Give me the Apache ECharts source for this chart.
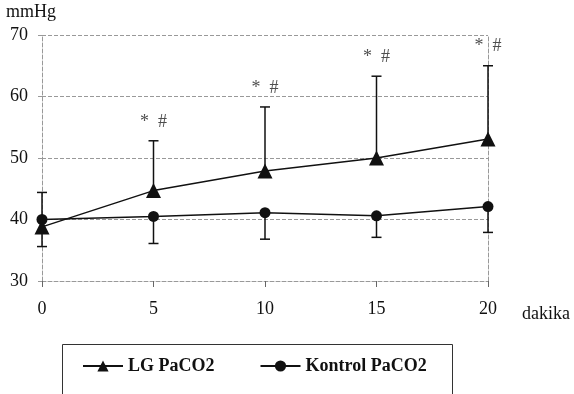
<!DOCTYPE html>
<html>
<head>
<meta charset="utf-8">
<script src="https://cdn.jsdelivr.net/npm/echarts@6/dist/echarts.min.js"></script>
<style>html,body{margin:0;padding:0;background:#fff;}#c{width:574px;height:394px;}</style>
</head>
<body>
<div id="c"></div>
<script>
const minutes = [0, 5, 10, 15, 20];
const lgMean = [38.8, 44.7, 47.9, 50.0, 53.1];
const lgUpper = [44.4, 52.8, 58.3, 63.3, 65.0];
const kontrolMean = [40.0, 40.5, 41.1, 40.6, 42.1];
const kontrolLower = [35.6, 36.1, 36.8, 37.1, 37.9];
const yTicks = [30, 40, 50, 60, 70];
const signif = ['', '*  #', '*  #', '*  #', '*  #'];

const FONT = 'Liberation Serif';
const chart = echarts.init(document.getElementById('c'));

function errRender(params, api) {
  const x = api.value(0);
  const p1 = api.coord([x, api.value(1)]);
  const p2 = api.coord([x, api.value(2)]);
  const capPt = api.value(3) === 1 ? p2 : p1;
  const hw = 5;
  return {
    type: 'group',
    children: [
      { type: 'line', shape: { x1: p1[0], y1: p1[1], x2: p2[0], y2: p2[1] }, style: { stroke: '#111', lineWidth: 1.5 } },
      { type: 'line', shape: { x1: capPt[0] - hw, y1: capPt[1], x2: capPt[0] + hw, y2: capPt[1] }, style: { stroke: '#111', lineWidth: 1.5 } }
    ]
  };
}

const lgErr = minutes.map((m, i) => [m, lgMean[i], lgUpper[i], 1]);
const kErr = minutes.map((m, i) => [m, kontrolLower[i], kontrolMean[i], 0]);

chart.setOption({
  animation: false,
  backgroundColor: '#fff',
  textStyle: { fontFamily: FONT },
  grid: { left: 42, right: 86, top: 35, bottom: 113 },
  xAxis: {
    type: 'value', min: 0, max: 20, interval: 5,
    axisLine: { show: true, lineStyle: { color: '#999', type: 'dashed', width: 1 } },
    axisTick: { show: true, length: 6, lineStyle: { color: '#666', width: 1 } },
    axisLabel: { color: '#111', fontSize: 18, fontFamily: FONT, margin: 19 },
    splitLine: { show: false }
  },
  yAxis: [{
    type: 'value', min: 30, max: 70, interval: 10,
    axisLine: { show: true, lineStyle: { color: '#999', type: 'dashed', width: 1 } },
    axisTick: { show: true, length: 5, lineStyle: { color: '#999', type: 'dashed' } },
    axisLabel: { color: '#111', fontSize: 18, fontFamily: FONT, margin: 14,
      formatter: v => yTicks.includes(v) ? String(v) : '' },
    splitLine: { show: true, lineStyle: { color: '#999', type: 'dashed', width: 1 } }
  }, {
    type: 'value', min: 30, max: 70, interval: 10, position: 'right',
    axisLine: { show: true, lineStyle: { color: '#999', type: 'dashed', width: 1 } },
    axisTick: { show: false }, axisLabel: { show: false }, splitLine: { show: false }
  }],
  legend: {
    left: 77, top: 352,
    itemWidth: 40, itemHeight: 14, itemGap: 45,
    textStyle: { fontFamily: FONT, fontWeight: 'bold', fontSize: 18, color: '#111' },
    data: ['LG PaCO2', 'Kontrol PaCO2']
  },
  graphic: [
    { type: 'text', left: 6, top: 3, style: { text: 'mmHg', font: '18px "Liberation Serif"', fill: '#111' } },
    { type: 'text', left: 522, top: 305, style: { text: 'dakika', font: '18px "Liberation Serif"', fill: '#111' } },
    { type: 'rect', shape: { x: 62.5, y: 344.5, width: 390, height: 80 }, style: { fill: 'none', stroke: '#333', lineWidth: 1 } }
  ],
  series: [
    { type: 'custom', name: 'lgErr', renderItem: errRender, data: lgErr, z: 2, silent: true },
    { type: 'custom', name: 'kErr', renderItem: errRender, data: kErr, z: 2, silent: true },
    {
      type: 'line', name: 'LG PaCO2', data: minutes.map((m, i) => [m, lgMean[i]]),
      symbol: 'triangle', symbolSize: 15, z: 3,
      lineStyle: { color: '#111', width: 1.5 }, itemStyle: { color: '#111' }
    },
    {
      type: 'line', name: 'Kontrol PaCO2', data: minutes.map((m, i) => [m, kontrolMean[i]]),
      symbol: 'circle', symbolSize: 11, z: 3,
      lineStyle: { color: '#111', width: 1.5 }, itemStyle: { color: '#111' }
    },
    {
      type: 'scatter', name: 'sig', data: minutes.map((m, i) => [m, lgUpper[i]]),
      symbolSize: 0, silent: true,
      label: { show: true, position: 'top', distance: 10, formatter: p => signif[p.dataIndex],
        fontFamily: FONT, fontSize: 18, color: '#222' }
    }
  ]
});
</script>
</body>
</html>
